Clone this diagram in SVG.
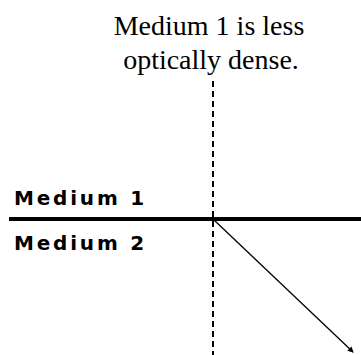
<svg xmlns="http://www.w3.org/2000/svg" width="361" height="355" viewBox="0 0 361 355">
<style>
.cap{font-family:"Liberation Serif","Times New Roman",serif;font-size:28px;fill:#000}
.lbl{font-family:"DejaVu Sans","Liberation Sans",sans-serif;font-weight:bold;font-size:20px;letter-spacing:2.8px;fill:#000}
.dash{stroke:#000;stroke-width:2;stroke-dasharray:6 4;fill:none}
</style>
<defs>
<marker id="ah" markerWidth="6" markerHeight="6" refX="5" refY="3" orient="auto" markerUnits="userSpaceOnUse">
<path d="M0,0 L6,3 L0,6 Z" fill="#000"/>
</marker>
</defs>
<g id="caption">
<text class="cap" x="209" y="35" text-anchor="middle">Medium 1 is less</text>
<text class="cap" x="211" y="69" text-anchor="middle">optically dense.</text>
</g>
<g id="medium1"><text class="lbl" x="14" y="205">Medium 1</text></g>
<g id="medium2"><text class="lbl" x="14" y="250">Medium 2</text></g>
<g id="connectors">
<line x1="9" y1="219" x2="361" y2="219" stroke="#000" stroke-width="4"/>
<line class="dash" x1="213" y1="81" x2="213" y2="355"/>
<line x1="214" y1="220" x2="353" y2="352" stroke="#000" stroke-width="1.3" marker-end="url(#ah)"/>
</g>
</svg>
